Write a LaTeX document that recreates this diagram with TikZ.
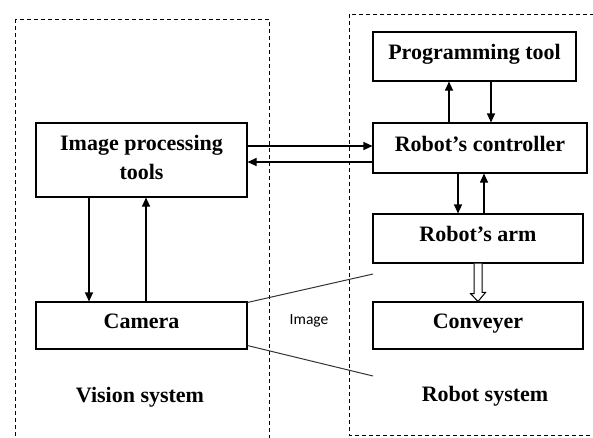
\documentclass[tikz,border=0pt]{standalone}
\usepackage{fontspec}
\setmainfont{Liberation Serif}
\newfontfamily\lblfont{Carlito}
\usetikzlibrary{arrows.meta}
\begin{document}
\begin{tikzpicture}[x=1pt,y=-1pt,
  box/.style={draw, line width=1.1pt, inner sep=0pt, align=center,
    text height=15pt, text depth=9pt,
    font=\fontsize{22}{29}\selectfont\bfseries},
  arr/.style={line width=1.1pt, -{Triangle[length=9pt,width=8pt]}},
  plain/.style={line width=1pt, draw=black!80},
  sysframe/.style={draw, line width=1pt, dash pattern=on 4pt off 3pt},
  syslabel/.style={font=\fontsize{22}{25}\selectfont\bfseries},
  hollow/.style={line width=1pt, fill=white}]
\clip (0,0) rectangle (593,437);
\draw[sysframe] (15.5,19) rectangle (269,445);
\draw[sysframe] (349,14) rectangle (600,435);

\node[box, minimum width=211pt, minimum height=74pt, text height=44pt, text depth=6pt] (ip) at (141.5,160) {Image processing\\tools};
\node[box, minimum width=211pt, minimum height=47pt] (cam) at (141.5,325.5) {Camera};
\node[box, minimum width=203pt, minimum height=49pt] (prog) at (474.5,56.5) {Programming tool};
\node[box, minimum width=214pt, minimum height=50pt] (ctrl) at (480,148) {Robot’s controller};
\node[box, minimum width=210pt, minimum height=49pt] (arm) at (478,238.5) {Robot’s arm};
\node[box, minimum width=210pt, minimum height=47pt] (conv) at (478,325.5) {Conveyer};

% Image processing <-> controller
\coordinate (a1) at ([yshift=14pt]ip.east);
\coordinate (a2) at ([yshift=-2pt]ip.east);
\draw[arr] (a1) -- (a1 -| ctrl.west);
\draw[arr] (a2 -| ctrl.west) -- (a2);

% Programming tool <-> controller
\coordinate (p1) at ([xshift=-31pt]ctrl.north);
\coordinate (p2) at ([xshift=11pt]ctrl.north);
\draw[arr] (p1) -- (p1 |- prog.south);
\draw[arr] (p2 |- prog.south) -- (p2);

% Controller <-> arm
\coordinate (c1) at ([xshift=-20pt]arm.north);
\coordinate (c2) at ([xshift=6pt]arm.north);
\draw[arr] (c1 |- ctrl.south) -- (c1);
\draw[arr] (c2) -- (c2 |- ctrl.south);

% Image processing <-> camera
\coordinate (v1) at ([xshift=-52.5pt]cam.north);
\coordinate (v2) at ([xshift=4.5pt]cam.north);
\draw[arr] (v1 |- ip.south) -- (v1);
\draw[arr] (v2) -- (v2 |- ip.south);

% Hollow arrow arm -> conveyer
\draw[hollow] ([xshift=-4pt]arm.south) -- ++(0,30) -- ++(-3.5,0) -- (conv.north)
  -- ++(7.5,-9) -- ++(-3.5,0) -- ([xshift=4pt]arm.south);

% Camera field of view
\coordinate (f1) at (373,274);
\coordinate (f2) at (373,376);
\draw[plain] ([yshift=-1pt]cam.north east) -- (f1);
\draw[plain] ([yshift=4pt]cam.south east) -- (f2);
\node[font=\lblfont\fontsize{15.5}{17}\selectfont] (img) at (309,321) {Image};

\node[syslabel] (vis) at (140,397) {Vision system};
\node[syslabel] (rob) at (485,396) {Robot system};
\end{tikzpicture}
\end{document}
